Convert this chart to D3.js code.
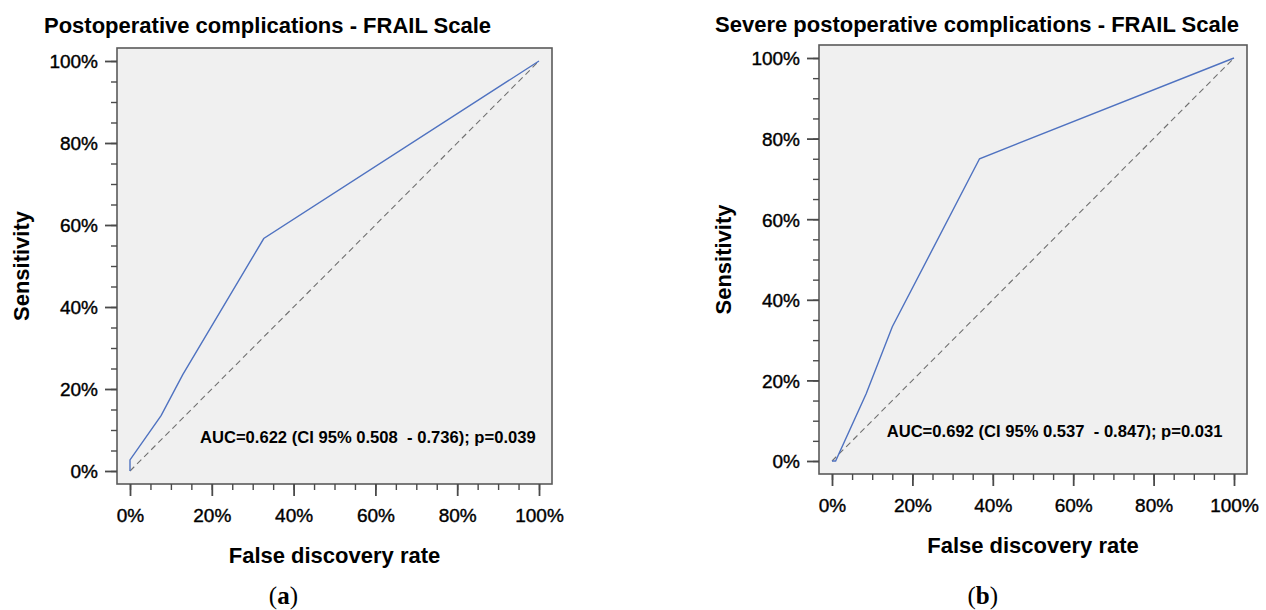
<!DOCTYPE html>
<html>
<head>
<meta charset="utf-8">
<script src="https://cdn.jsdelivr.net/npm/d3@7"></script>
<style>
    body { margin: 0; background: #fff; }
    text { font-family: "Liberation Sans", Arial, sans-serif; fill: #000; }
</style>
</head>
<body>
<div class="chart-container"></div>
<script>
// Data
const tickValues = [0, 20, 40, 60, 80, 100];
const tickLabels = ['0%', '20%', '40%', '60%', '80%', '100%'];

// (a) Postoperative complications
const rocA_fdr = [0, 0, 7.6, 12.9, 32.7, 100];
const rocA_sens = [0, 2.7, 13.5, 23.5, 56.7, 100];
// (b) Severe postoperative complications
const rocB_fdr = [0, 0.9, 8.5, 15.0, 36.7, 100];
const rocB_sens = [0, 0, 16.7, 33.3, 75.0, 100];

const titles = ['Postoperative complications - FRAIL Scale', 'Severe postoperative complications - FRAIL Scale'];
const aucTexts = ['AUC=0.622 (CI 95% 0.508  - 0.736); p=0.039', 'AUC=0.692 (CI 95% 0.537  - 0.847); p=0.031'];
const panelTags = ['a', 'b'];

// 畫布
const svg = d3.select('.chart-container').append('svg')
    .attr('width', 1266).attr('height', 610);

const pad = 13;
const panels = [
    { frame: { x0: 117, y0: 48, x1: 552, y1: 484 }, fdr: rocA_fdr, sens: rocA_sens, titleX: 44, titleY: 33, aucAt: [17.1, 6.8] },
    { frame: { x0: 819, y0: 45, x1: 1247, y1: 474 }, fdr: rocB_fdr, sens: rocB_sens, titleX: 715, titleY: 32, aucAt: [13.6, 6.0] }
];

panels.forEach((p, i) => drawPanel(p, i));

function drawPanel(p, i) {
    const f = p.frame;
    const g = svg.append('g').attr('class', `panel-${panelTags[i]}`);

    const xScale = d3.scaleLinear([0, 100], [f.x0 + pad, f.x1 - pad]);
    const yScale = d3.scaleLinear([0, 100], [f.y1 - pad, f.y0 + pad]);

    // 背景框
    g.append('rect')
        .attr('x', f.x0).attr('y', f.y0)
        .attr('width', f.x1 - f.x0).attr('height', f.y1 - f.y0)
        .style('fill', '#f0f0f0').style('stroke', '#5a5a5a').style('stroke-width', 1.6);

    // 軸 (major + minor ticks)
    const minor = d3.range(0, 101, 5);
    const yMinor = g.append('g').attr('transform', `translate(${f.x0},0)`)
        .call(d3.axisLeft(yScale).tickValues(minor).tickSize(6).tickFormat(''));
    const yMajor = g.append('g').attr('transform', `translate(${f.x0},0)`)
        .call(d3.axisLeft(yScale).tickValues(tickValues).tickSize(12)
            .tickFormat((d, k) => tickLabels[k]).tickPadding(7));
    const xMinor = g.append('g').attr('transform', `translate(0,${f.y1})`)
        .call(d3.axisBottom(xScale).tickValues(minor).tickSize(6).tickFormat(''));
    const xMajor = g.append('g').attr('transform', `translate(0,${f.y1})`)
        .call(d3.axisBottom(xScale).tickValues(tickValues).tickSize(12)
            .tickFormat((d, k) => tickLabels[k]).tickPadding(12));

    [yMinor, yMajor, xMinor, xMajor].forEach(a => {
        a.select('.domain').remove();
        a.selectAll('line').style('stroke', '#4a4a4a').style('stroke-width', 1.8);
        a.selectAll('text').style('font-size', '19px').style('font-family', '"Liberation Sans", Arial, sans-serif')
            .style('fill', '#000').style('stroke', '#000').style('stroke-width', 0.4);
    });
    yMinor.selectAll('line').style('stroke-width', 1.4);
    xMinor.selectAll('line').style('stroke-width', 1.4);
    yMajor.selectAll('text').attr('dy', '0.36em');
    xMajor.selectAll('text').attr('dy', '0.72em');

    // reference diagonal
    g.append('line')
        .attr('x1', xScale(0)).attr('y1', yScale(0))
        .attr('x2', xScale(100)).attr('y2', yScale(100))
        .style('stroke', '#707070').style('stroke-width', 1.1)
        .style('stroke-dasharray', '6,4');

    // ROC curve
    const pts = p.fdr.map((d, k) => [d, p.sens[k]]);
    const line = d3.line().x(d => xScale(d[0])).y(d => yScale(d[1]));
    g.append('path').datum(pts)
        .attr('d', line)
        .style('fill', 'none').style('stroke', '#4f72c0').style('stroke-width', 1.4);

    // AUC text
    g.append('text')
        .attr('x', xScale(p.aucAt[0])).attr('y', yScale(p.aucAt[1]))
        .style('font-size', '16.6px').style('font-weight', 'bold')
        .style('white-space', 'pre')
        .text(aucTexts[i]);

    // header
    g.append('text')
        .attr('x', p.titleX).attr('y', p.titleY)
        .style('font-size', '22px').style('font-weight', 'bold')
        .text(titles[i]);

    // axis titles
    g.append('text')
        .attr('x', xScale(50)).attr('y', f.y1 + 79)
        .attr('text-anchor', 'middle')
        .style('font-size', '22px').style('font-weight', 'bold')
        .text('False discovery rate');
    g.append('text')
        .attr('transform', `translate(${f.x0 - 88},${yScale(50)}) rotate(-90)`)
        .attr('text-anchor', 'middle')
        .style('font-size', '22px').style('font-weight', 'bold')
        .text('Sensitivity');

    // (a) / (b)
    const tag = g.append('text')
        .attr('x', xScale(37.5)).attr('y', 604)
        .attr('text-anchor', 'middle')
        .style('font-family', '"Liberation Serif", "Times New Roman", serif')
        .style('font-size', '25px');
    tag.append('tspan').text('(');
    tag.append('tspan').style('font-weight', 'bold').text(panelTags[i]);
    tag.append('tspan').text(')');
}
</script>
</body>
</html>
